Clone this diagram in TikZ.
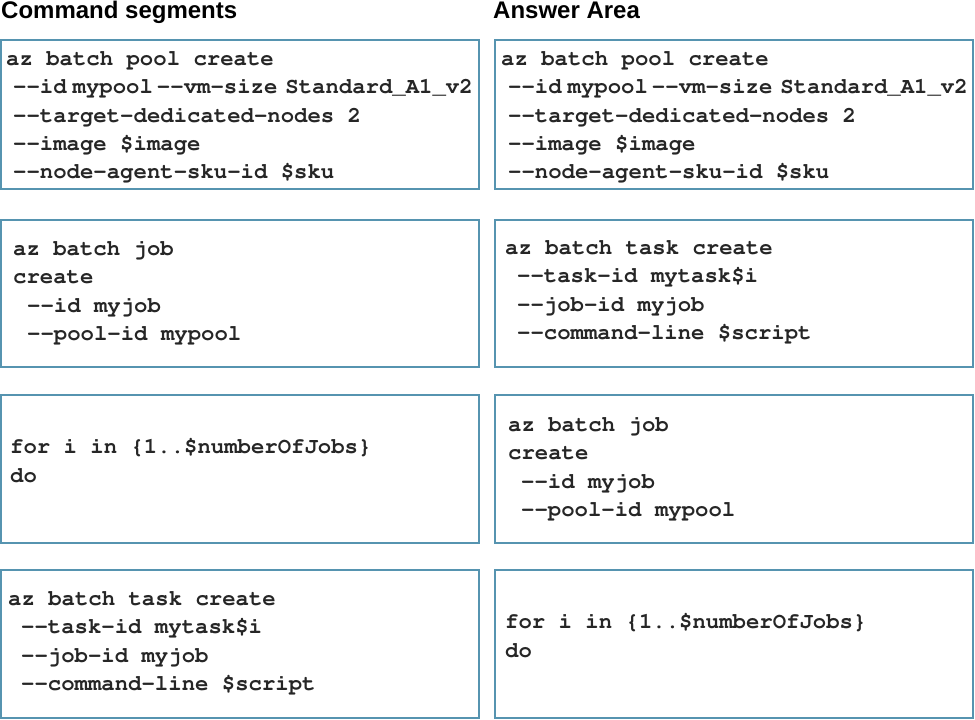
\documentclass[tikz,border=0pt]{standalone}
\usepackage[T1]{fontenc}
\usepackage{fontspec}
\setmainfont{Liberation Sans}
\definecolor{boxblue}{RGB}{86,148,176}
\newcommand{\courfont}{\fontencoding{T1}\fontfamily{pcr}\fontseries{b}\fontshape{n}\fontsize{22.3}{26}\selectfont}
\newcommand{\dd}{-{}-}
\begin{document}
\begin{tikzpicture}[x=1pt,y=1pt,
  cbox/.style={draw=boxblue, line width=1.8pt, inner sep=0pt, minimum width=478pt},
  code/.style={anchor=base west, inner sep=0pt, font=\courfont, text=black!85},
  head/.style={anchor=base west, inner sep=0pt, font=\bfseries\fontsize{24}{26}\selectfont}]
\useasboundingbox (0,0) rectangle (975,-720);
\fill[white] (0,0) rectangle (975,-720);
% headings
\node[head] (h1) at (1,-18) {Command segments};
\node[head] (h2) at (493,-18) {Answer Area};
% boxes, left column
\node[cbox, minimum height=149pt] (l1) at (240,-114.5) {};
\node[cbox, minimum height=147pt] (l2) at (240,-293.5) {};
\node[cbox, minimum height=148pt] (l3) at (240,-469) {};
\node[cbox, minimum height=148pt] (l4) at (240,-644) {};
% boxes, right column
\node[cbox, minimum height=149pt] (r1) at (734,-114.5) {};
\node[cbox, minimum height=147pt] (r2) at (734,-293.5) {};
\node[cbox, minimum height=148pt] (r3) at (734,-469) {};
\node[cbox, minimum height=148pt] (r4) at (734,-644) {};
% L1
\node[code] (l1a) at (6,-65) {az batch pool create};
\node[code] (l1b) at (13,-93) {\dd id\hspace{6pt}mypool\hspace{4pt}\dd vm-size\hspace{8pt}Standard\_A1\_v2};
\node[code] (l1c) at (13,-122) {\dd target-dedicated-nodes 2};
\node[code] (l1d) at (13,-150) {\dd image \$image};
\node[code] (l1e) at (13,-178) {\dd node-agent-sku-id \$sku};
% L2
\node[code] (l2a) at (13,-255) {az batch job};
\node[code] (l2b) at (13,-283) {create};
\node[code] (l2c) at (27,-312) {\dd id myjob};
\node[code] (l2d) at (27,-340) {\dd pool-id mypool};
% L3
\node[code] (l3a) at (10,-453) {for i in \{1..\$numberOfJobs\}};
\node[code] (l3b) at (10,-482) {do};
% L4
\node[code] (l4a) at (8,-605) {az batch task create};
\node[code] (l4b) at (21,-633) {\dd task-id mytask\$i};
\node[code] (l4c) at (21,-662) {\dd job-id myjob};
\node[code] (l4d) at (21,-690) {\dd command-line \$script};
% R1
\node[code] (r1a) at (501,-65) {az batch pool create};
\node[code] (r1b) at (508,-93) {\dd id\hspace{6pt}mypool\hspace{4pt}\dd vm-size\hspace{8pt}Standard\_A1\_v2};
\node[code] (r1c) at (508,-122) {\dd target-dedicated-nodes 2};
\node[code] (r1d) at (508,-150) {\dd image \$image};
\node[code] (r1e) at (508,-178) {\dd node-agent-sku-id \$sku};
% R2
\node[code] (r2a) at (505,-254) {az batch task create};
\node[code] (r2b) at (517,-282) {\dd task-id mytask\$i};
\node[code] (r2c) at (517,-311) {\dd job-id myjob};
\node[code] (r2d) at (517,-339) {\dd command-line \$script};
% R3
\node[code] (r3a) at (508,-431) {az batch job};
\node[code] (r3b) at (508,-459) {create};
\node[code] (r3c) at (521,-488) {\dd id myjob};
\node[code] (r3d) at (521,-516) {\dd pool-id mypool};
% R4
\node[code] (r4a) at (505,-628) {for i in \{1..\$numberOfJobs\}};
\node[code] (r4b) at (505,-657) {do};
\end{tikzpicture}
\end{document}
